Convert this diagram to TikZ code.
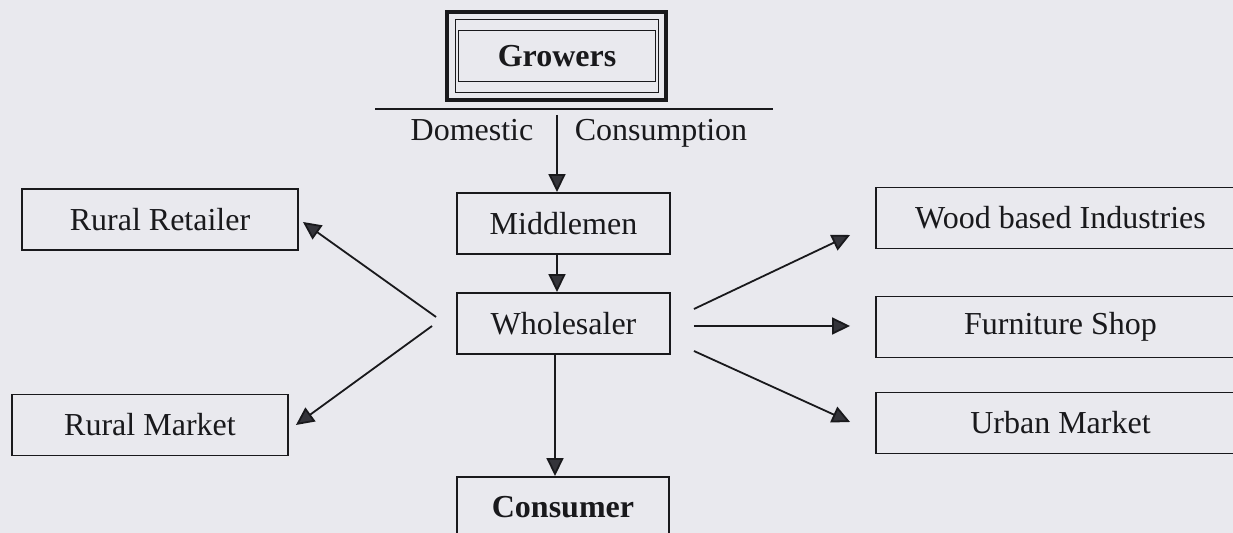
\documentclass[tikz,border=0pt]{standalone}
\usepackage{fontspec}
\setmainfont{Liberation Serif}
\usetikzlibrary{arrows.meta,calc,positioning}
\definecolor{paperGray}{RGB}{233,233,238}
\definecolor{inkDark}{RGB}{25,25,28}
\definecolor{tipGray}{RGB}{52,52,58}

\begin{document}
\begin{tikzpicture}[
  x=0.5pt, y=-0.5pt,
  every node/.style={text=inkDark, font=\fontsize{16}{19}\selectfont},
  stage/.style={rectangle, draw=inkDark, line width=0.95pt, inner sep=0pt, minimum height=30.5pt},
  flow/.style={-{Triangle[length=9pt,width=8.5pt,fill=tipGray]}, line width=0.9pt, draw=inkDark},
]
\fill[paperGray] (0,0) rectangle (1233,533);
\useasboundingbox (0,0) rectangle (1233,533);

% source of the chain
\node[stage, line width=1.7pt, minimum width=109.5pt, minimum height=44pt] (growers) at (556.5,56) {};
\draw[draw=inkDark, line width=0.7pt] ([shift={(10,9)}]growers.north west) rectangle ([shift={(-9,-9)}]growers.south east);
\draw[draw=inkDark, line width=0.7pt] ([shift={(13,20)}]growers.north west) rectangle ([shift={(-12,-20)}]growers.south east);
\node[font=\fontsize{16}{19}\selectfont\bfseries] (growersTxt) at (557,56) {Growers};

\coordinate (splitL) at (375,109);
\coordinate (splitR) at (773,109);
\draw[line width=0.85pt, draw=inkDark] (splitL) -- (splitR);
\node[anchor=base] (domestic) at (472,141) {Domestic};
\node[anchor=base] (consumption) at (661,141) {Consumption};
\coordinate (dc) at (557,115);

% middle column
\node[stage, minimum width=106.5pt] (middlemen) at (563.5,223.5) {Middlemen};
\node[stage, minimum width=106.5pt] (wholesaler) at (563.5,323.5) {Wholesaler};
\node[stage, minimum width=106pt, font=\fontsize{16}{19}\selectfont\bfseries] (consumer) at (563,507.5) {Consumer};

% left side
\node[stage, minimum width=138pt] (ruralRetailer) at (160,219.5) {Rural Retailer};
\node[stage, minimum width=138pt] (ruralMarket) at (150,425) {Rural Market};

% right side
\node[stage, minimum width=184.5pt] (woodInd) at (1060.5,218) {Wood based Industries};
\node[stage, minimum width=184.5pt] (furniture) at (1060.5,327) {Furniture Shop};
\node[stage, minimum width=184.5pt] (urbanMkt) at (1060.5,423) {Urban Market};

\draw[flow] (dc) -- (dc |- middlemen.north);
\draw[flow] (dc |- middlemen.south) -- (dc |- wholesaler.north);
\draw[flow] ([xshift=-1pt]dc |- wholesaler.south) -- ([xshift=-1pt]dc |- consumer.north);

\draw[flow] ([shift={(-20,-6.5)}]wholesaler.west) -- ([shift={(4,2.5)}]ruralRetailer.east);
\draw[flow] ([shift={(-24,2.5)}]wholesaler.west) -- ([shift={(7,0)}]ruralMarket.east);

\draw[flow] ([shift={(23,-14.5)}]wholesaler.east) -- ([shift={(-25,17)}]woodInd.west);
\draw[flow] ([shift={(23,2.5)}]wholesaler.east) -- ([shift={(-25,-1)}]furniture.west);
\draw[flow] ([shift={(23,27.5)}]wholesaler.east) -- ([shift={(-25,-1)}]urbanMkt.west);
\end{tikzpicture}
\end{document}
